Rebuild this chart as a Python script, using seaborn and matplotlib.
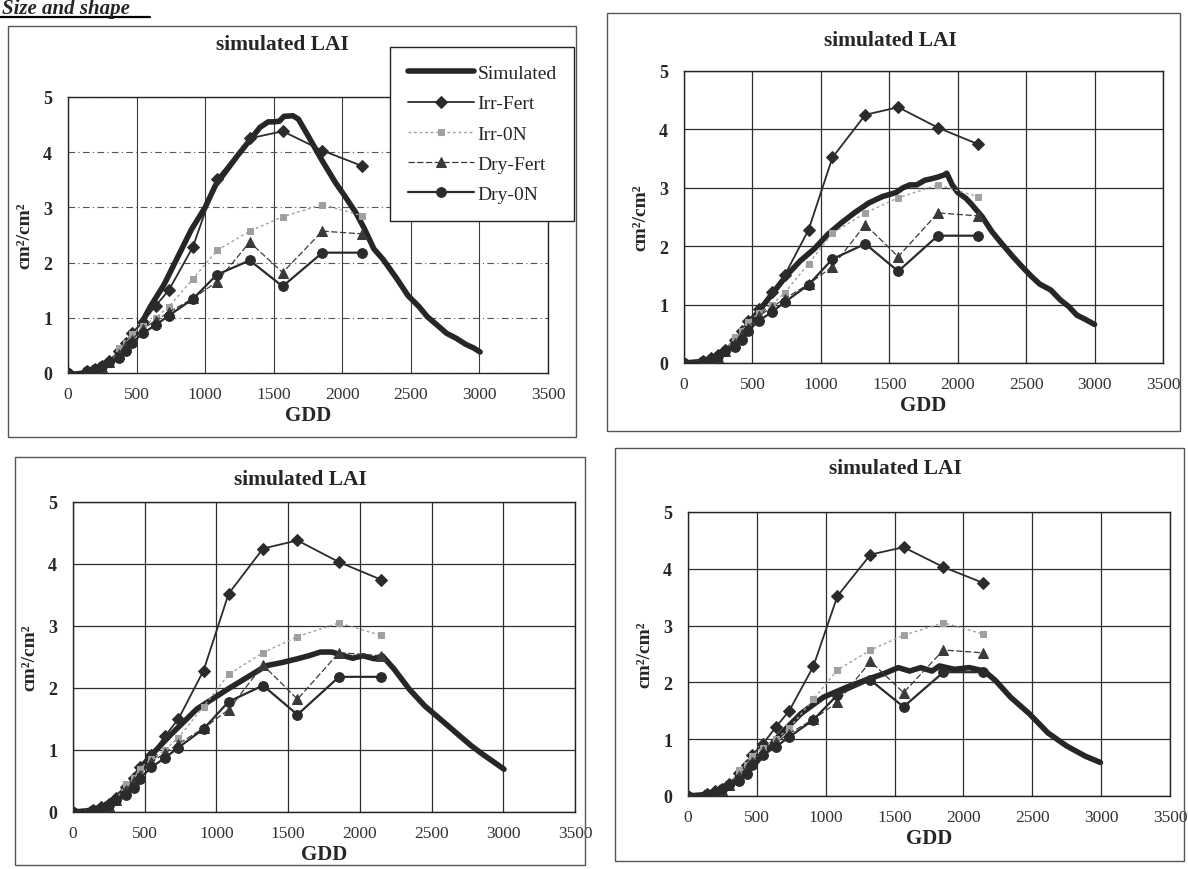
import matplotlib
matplotlib.use("Agg")
import matplotlib.pyplot as plt
import seaborn as sns
from matplotlib.patches import Rectangle
from matplotlib.lines import Line2D

# ---------------- data ----------------
gdd_obs = [0, 140, 195, 250, 300, 370, 425, 465, 545, 640, 735, 910, 1085, 1325, 1565, 1855, 2145]
irr_fert = [0, 0.04, 0.08, 0.13, 0.22, 0.40, 0.55, 0.72, 0.92, 1.22, 1.50, 2.28, 3.52, 4.25, 4.38, 4.03, 3.75]
irr_0n   = [0, 0.04, 0.07, 0.12, 0.20, 0.45, 0.55, 0.70, 0.85, 1.00, 1.20, 1.70, 2.22, 2.57, 2.83, 3.05, 2.85]
dry_fert = [0, 0.03, 0.07, 0.10, 0.20, 0.35, 0.50, 0.60, 0.80, 0.95, 1.10, 1.35, 1.65, 2.37, 1.82, 2.57, 2.52]
dry_0n   = [0, 0.03, 0.07, 0.12, 0.20, 0.27, 0.39, 0.54, 0.72, 0.87, 1.04, 1.34, 1.78, 2.04, 1.57, 2.18, 2.18]

sim1_gdd = [535, 600, 700, 800, 900, 1000, 1075, 1150, 1240, 1320, 1400, 1460, 1500, 1540, 1575, 1640, 1680,
            1750, 1850, 1950, 2020, 2100, 2160, 2230, 2300, 2400, 2480, 2560, 2620, 2700, 2760, 2830, 2900, 2960, 3005]
sim1_lai = [0.90, 1.20, 1.60, 2.10, 2.60, 3.00, 3.40, 3.65, 3.95, 4.20, 4.45, 4.55, 4.55, 4.56, 4.65, 4.66, 4.60,
            4.30, 3.86, 3.45, 3.20, 2.90, 2.62, 2.25, 2.05, 1.70, 1.40, 1.20, 1.02, 0.85, 0.72, 0.63, 0.52, 0.45, 0.38]

sim2_gdd = [0, 100, 200, 300, 400, 480, 550, 650, 750, 850, 950, 1050, 1150, 1250, 1350, 1450, 1550, 1600, 1650,
            1700, 1760, 1800, 1850, 1900, 1920, 1960, 2000, 2060, 2100, 2180, 2250, 2320, 2400, 2470, 2540, 2600,
            2680, 2750, 2810, 2870, 2930, 3000]
sim2_lai = [0, 0.02, 0.07, 0.20, 0.40, 0.65, 0.90, 1.20, 1.50, 1.75, 1.95, 2.20, 2.40, 2.58, 2.74, 2.85, 2.92, 3.00, 3.05,
            3.05, 3.13, 3.15, 3.18, 3.22, 3.25, 3.05, 2.92, 2.82, 2.72, 2.50, 2.25, 2.05, 1.83, 1.65, 1.48, 1.35,
            1.25, 1.08, 0.97, 0.82, 0.75, 0.66]

sim3_gdd = [0, 100, 200, 300, 400, 470, 539, 674, 863, 1078, 1213, 1348, 1456, 1563, 1644, 1725, 1806, 1887, 1950,
            2022, 2102, 2156, 2237, 2345, 2453, 2534, 2615, 2695, 2776, 2857, 2938, 3005]
sim3_lai = [0, 0.02, 0.08, 0.22, 0.45, 0.70, 0.90, 1.23, 1.66, 1.98, 2.17, 2.36, 2.41, 2.47, 2.52, 2.58, 2.58, 2.52, 2.48,
            2.52, 2.47, 2.52, 2.31, 1.98, 1.71, 1.55, 1.39, 1.23, 1.07, 0.93, 0.80, 0.69]

sim4_gdd = [0, 100, 200, 300, 400, 494, 657, 820, 984, 1147, 1310, 1418, 1527, 1609, 1690, 1772, 1826, 1935, 2043,
            2152, 2234, 2342, 2478, 2614, 2750, 2886, 2995]
sim4_lai = [0, 0.02, 0.07, 0.18, 0.38, 0.59, 1.05, 1.45, 1.74, 1.91, 2.06, 2.15, 2.26, 2.20, 2.26, 2.20, 2.29, 2.23, 2.26,
            2.20, 2.03, 1.74, 1.45, 1.11, 0.88, 0.70, 0.59]

series_names = ["Simulated", "Irr-Fert", "Irr-0N", "Dry-Fert", "Dry-0N"]
x_ticks = [0, 500, 1000, 1500, 2000, 2500, 3000, 3500]
y_ticks = [0, 1, 2, 3, 4, 5]
title_text = "simulated LAI"
x_label = "GDD"
y_label = "cm²/cm²"
header_text = "Size and shape"

# ---------------- styling ----------------
sns.set_theme(style="white")
plt.rcParams["font.family"] = ["Liberation Serif", "DejaVu Serif"]

W, H = 1188, 870
fig = plt.figure(figsize=(W / 100, H / 100), dpi=100)
fig.patch.set_facecolor("white")


def frect(l, t, r, b):
    return [l / W, 1 - b / H, (r - l) / W, (b - t) / H]


panels = [
    dict(frame=(8, 27, 576, 438), axes=(68, 98, 548, 374), title=(282, 45), sim=(sim1_gdd, sim1_lai), legend=True, dashed=True),
    dict(frame=(607, 14, 1180, 432), axes=(684, 72, 1163, 364), title=(890, 41), sim=(sim2_gdd, sim2_lai), legend=False, dashed=False),
    dict(frame=(15, 458, 585, 866), axes=(73, 503, 575, 813), title=(300, 480), sim=(sim3_gdd, sim3_lai), legend=False, dashed=False),
    dict(frame=(615, 449, 1184, 862), axes=(688, 513, 1170, 797), title=(895, 469), sim=(sim4_gdd, sim4_lai), legend=False, dashed=False),
]

obs_styles = [
    ("Irr-Fert", irr_fert, dict(color="#2b2b2b", marker="D", markersize=6, linewidth=1.3, linestyle="-")),
    ("Irr-0N", irr_0n, dict(color="#a0a0a0", marker="s", markersize=5, linewidth=1.0, linestyle=(0, (2, 2)))),
    ("Dry-Fert", dry_fert, dict(color="#3a3a3a", marker="^", markersize=6.5, linewidth=0.9, linestyle=(0, (5, 2)))),
    ("Dry-0N", dry_0n, dict(color="#2b2b2b", marker="o", markersize=7, linewidth=1.6, linestyle="-")),
]

for p in panels:
    l, t, r, b = p["frame"]
    fig.add_artist(Rectangle((l / W, 1 - b / H), (r - l) / W, (b - t) / H, transform=fig.transFigure,
                             fill=False, edgecolor="#555555", linewidth=1.0))
    ax = fig.add_axes(frect(*p["axes"]))
    ax.set_facecolor("white")

    sx, sy = p["sim"]
    sns.lineplot(x=sx, y=sy, ax=ax, color="#262626", linewidth=4, sort=False, estimator=None,
                 label=series_names[0], zorder=3)
    for name, vals, st in obs_styles:
        sns.lineplot(x=gdd_obs, y=vals, ax=ax, sort=False, estimator=None, label=name,
                     markeredgecolor=st["color"], zorder=4, **st)

    ax.set_xlim(0, 3500)
    ax.set_ylim(0, 5)
    ax.set_xticks(x_ticks)
    ax.set_yticks(y_ticks)
    ax.set_xticklabels([str(v) for v in x_ticks], fontsize=12.5, color="#333333")
    ax.set_yticklabels([str(v) for v in y_ticks], fontsize=13, fontweight="bold")
    ax.tick_params(axis="both", direction="inout", length=5, width=0.8, color="#222222")
    ax.tick_params(axis="x", pad=7)
    ax.tick_params(axis="y", pad=9)

    if p["dashed"]:
        ax.xaxis.grid(True, color="#3a3a3a", linewidth=0.8, linestyle="-")
        ax.yaxis.grid(True, color="#555555", linewidth=0.8, linestyle=(0, (6, 3, 1, 3)))
    else:
        ax.grid(True, color="#2e2e2e", linewidth=0.9, linestyle="-")
    ax.set_axisbelow(True)
    for s in ax.spines.values():
        s.set_visible(True)
        s.set_color("#222222")
        s.set_linewidth(1.0)

    ax.set_xlabel(x_label, fontsize=15, fontweight="bold", labelpad=2)
    ax.set_ylabel(y_label, fontsize=14, fontweight="bold", labelpad=7)

    fig.text(p["title"][0] / W, 1 - p["title"][1] / H, title_text, ha="center", va="center",
             fontsize=15.5, fontweight="bold")

    if p["legend"]:
        handles, labels = ax.get_legend_handles_labels()
        leg = ax.legend(handles, labels, loc="upper left", bbox_to_anchor=(390 / W, 1 - 48 / H),
                        bbox_transform=fig.transFigure, fontsize=14, frameon=True, fancybox=False,
                        edgecolor="#222222", facecolor="white", framealpha=1, handlelength=3.4,
                        labelspacing=0.65, borderpad=0.9, handletextpad=0.2, borderaxespad=0)
        leg.get_frame().set_linewidth(1.0)
        leg.set_zorder(10)
    else:
        lg = ax.get_legend()
        if lg is not None:
            lg.remove()

# page header above the first panel
fig.text(2 / W, 1 - 14 / H, header_text, ha="left", va="baseline", fontsize=15,
         fontweight="bold", fontstyle="italic")
fig.add_artist(Line2D([0 / W, 150 / W], [1 - 18 / H, 1 - 18 / H], transform=fig.transFigure,
                      color="black", linewidth=1.6))

fig.savefig("out.png", dpi=100, facecolor="white")
